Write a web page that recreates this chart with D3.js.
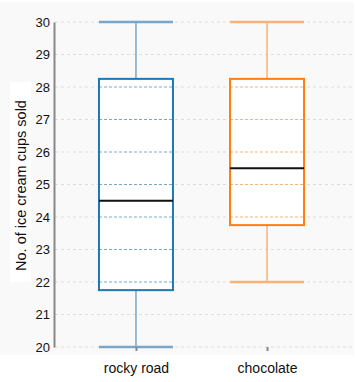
<!DOCTYPE html>
<html><head><meta charset="utf-8">
<script src="https://cdn.jsdelivr.net/npm/d3@7"></script>
<style>body{margin:0;background:#fff}svg{display:block;font-family:"Liberation Sans",Arial,sans-serif}</style>
</head><body><div id="c"></div>
<script>
const categories = ["rocky road", "chocolate"];
const mins = [20, 22];
const q1s = [21.75, 23.75];
const medians = [24.5, 25.5];
const q3s = [28.25, 28.25];
const maxs = [30, 30];
const colors = ["#1f77b4", "#ff7f0e"];
const capColors = ["#7aa6cc", "#f9b27a"];
const yTicks = [20, 21, 22, 23, 24, 25, 26, 27, 28, 29, 30];
const yLabel = "No. of ice cream cups sold";

const W = 355, H = 382;
const svg = d3.select("#c").append("svg").attr("width", W).attr("height", H);

const y = d3.scaleLinear().domain([20, 30]).range([347, 22]);
const x = d3.scalePoint().domain(categories).range([50, 353]).padding(0.656);
const bw = 74;

// background
svg.append("rect").attr("x", 0).attr("y", 2).attr("width", 354).attr("height", 353).attr("fill", "#f9f9f9");

// gridlines
svg.append("g").selectAll("line").data(yTicks).join("line")
  .attr("x1", 55).attr("x2", 354).attr("y1", d => y(d)).attr("y2", d => y(d))
  .attr("stroke", "#dddddd").attr("stroke-width", 1).attr("stroke-dasharray", "3,3");

const data = categories.map((c, i) => ({c, i, min: mins[i], q1: q1s[i], med: medians[i], q3: q3s[i], max: maxs[i]}));

const g = svg.append("g").selectAll("g").data(data).join("g");
// whiskers
g.append("line").attr("x1", d => x(d.c)).attr("x2", d => x(d.c))
  .attr("y1", d => y(d.max)).attr("y2", d => y(d.q3))
  .attr("stroke", d => capColors[d.i]).attr("stroke-width", 1.5);
g.append("line").attr("x1", d => x(d.c)).attr("x2", d => x(d.c))
  .attr("y1", d => y(d.q1)).attr("y2", d => y(d.min))
  .attr("stroke", d => capColors[d.i]).attr("stroke-width", 1.5);
// caps
g.append("line").attr("x1", d => x(d.c) - bw/2).attr("x2", d => x(d.c) + bw/2)
  .attr("y1", d => y(d.max)).attr("y2", d => y(d.max))
  .attr("stroke", d => capColors[d.i]).attr("stroke-width", 2.5);
g.append("line").attr("x1", d => x(d.c) - bw/2).attr("x2", d => x(d.c) + bw/2)
  .attr("y1", d => y(d.min)).attr("y2", d => y(d.min))
  .attr("stroke", d => capColors[d.i]).attr("stroke-width", 2.5);
// box
g.append("rect").attr("x", d => x(d.c) - bw/2).attr("width", bw)
  .attr("y", d => y(d.q3)).attr("height", d => y(d.q1) - y(d.q3))
  .attr("fill", "#ffffff");
// inner gridlines
g.each(function(d) {
  const ticks = yTicks.filter(t => t > d.q1 && t < d.q3);
  d3.select(this).append("g").selectAll("line").data(ticks).join("line")
    .attr("x1", x(d.c) - bw/2).attr("x2", x(d.c) + bw/2)
    .attr("y1", t => y(t)).attr("y2", t => y(t))
    .attr("stroke", capColors[d.i]).attr("stroke-width", 1).attr("stroke-dasharray", "3,2");
});
g.append("rect").attr("x", d => x(d.c) - bw/2).attr("width", bw)
  .attr("y", d => y(d.q3)).attr("height", d => y(d.q1) - y(d.q3))
  .attr("fill", "none").attr("stroke", d => colors[d.i]).attr("stroke-width", 2);
// median
g.append("line").attr("x1", d => x(d.c) - bw/2).attr("x2", d => x(d.c) + bw/2)
  .attr("y1", d => y(d.med)).attr("y2", d => y(d.med))
  .attr("stroke", "#111").attr("stroke-width", 2);

// y axis
const ya = svg.append("g").attr("transform", "translate(54,0)")
  .call(d3.axisLeft(y).tickValues(yTicks).tickSize(0).tickPadding(4));
ya.select(".domain").attr("stroke", "#888").attr("stroke-width", 2);
ya.selectAll("text").attr("font-size", 13).attr("fill", "#111").attr("font-family", "inherit");

// x axis
const xa = svg.append("g").attr("transform", "translate(0,347)")
  .call(d3.axisBottom(x).tickSize(4).tickPadding(12));
xa.select(".domain").remove();
xa.selectAll(".tick line").attr("stroke", "#888").attr("stroke-width", 2);
xa.selectAll("text").attr("font-size", 14).attr("fill", "#111").attr("font-family", "inherit");

// y label
svg.append("rect").attr("x", 10).attr("y", 82).attr("width", 21).attr("height", 200).attr("fill", "#fff");
svg.append("text").attr("transform", "translate(25.5,185.5) rotate(-90)")
  .attr("text-anchor", "middle").attr("font-size", 14.5).attr("fill", "#111").text(yLabel);
</script></body></html>
